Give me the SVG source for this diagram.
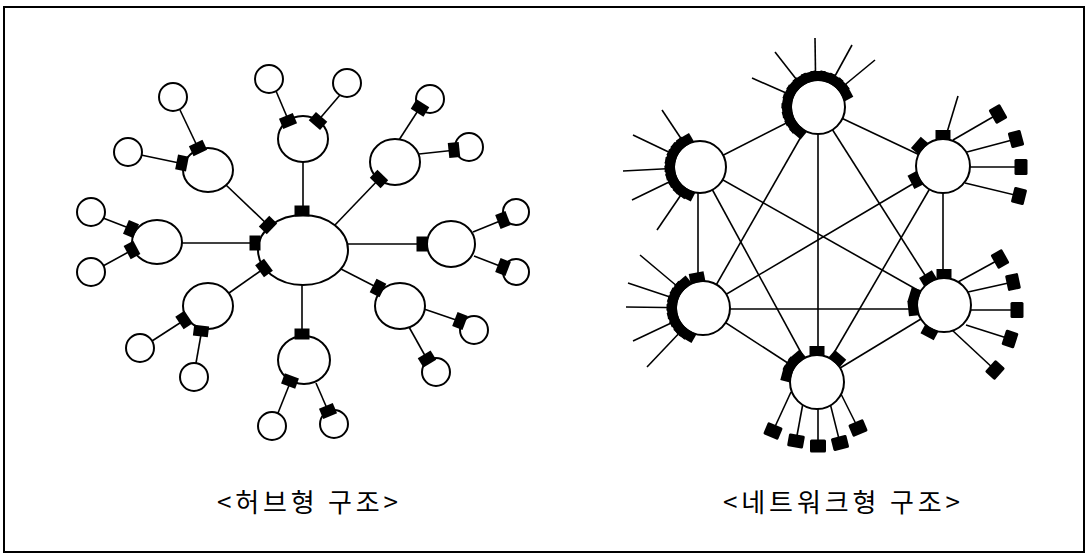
<svg xmlns="http://www.w3.org/2000/svg" xmlns:xlink="http://www.w3.org/1999/xlink" width="1088" height="557" viewBox="0 0 1088 557">
<style>
.n{fill:#fff;stroke:#000;stroke-width:2}
.c line,.s line{stroke:#000;stroke-width:1.6}
.p,use{fill:#000}
.t{font-family:"Noto Sans CJK KR","Liberation Sans",sans-serif;font-size:26px;fill:#000}
</style>
<defs>
<rect id="sq" x="-7.5" y="-5.5" width="15" height="11"/>
<rect id="np" x="-7.5" y="-9" width="15" height="10"/>
<rect id="tm" x="-8" y="-6.5" width="16" height="13" rx="1.5"/>
</defs>
<rect x="4" y="7" width="1080" height="545" fill="#fff" stroke="#000" stroke-width="2"/>

<!-- hub structure connectors -->
<g id="hub-connectors" class="c">
<line x1="303" y1="216" x2="303" y2="161"/>
<line x1="226" y1="185" x2="270" y2="227"/>
<line x1="181" y1="243" x2="259" y2="243"/>
<line x1="229" y1="293" x2="266" y2="267"/>
<line x1="302" y1="284" x2="302" y2="337"/>
<line x1="334" y1="226" x2="381" y2="177"/>
<line x1="347" y1="244" x2="427" y2="244"/>
<line x1="341" y1="269" x2="380" y2="289"/>
<line x1="276" y1="91" x2="290" y2="124"/>
<line x1="340" y1="95" x2="316" y2="123"/>
<line x1="180" y1="110" x2="199" y2="150"/>
<line x1="141" y1="155" x2="184" y2="164"/>
<line x1="103" y1="218" x2="134" y2="230"/>
<line x1="103" y1="266" x2="134" y2="249"/>
<line x1="152" y1="341" x2="186" y2="319"/>
<line x1="196" y1="363" x2="202" y2="329"/>
<line x1="278" y1="413" x2="292" y2="378"/>
<line x1="316" y1="383" x2="329" y2="413"/>
<line x1="399" y1="140" x2="421" y2="106"/>
<line x1="419" y1="154" x2="456" y2="150"/>
<line x1="473" y1="232" x2="505" y2="219"/>
<line x1="474" y1="256" x2="505" y2="268"/>
<line x1="424" y1="309" x2="462" y2="322"/>
<line x1="409" y1="327" x2="428" y2="361"/>
</g>

<g id="hub"><ellipse class="n" cx="303" cy="250" rx="45" ry="35"/></g>
<g id="h-n1"><ellipse class="n" cx="303" cy="139" rx="25" ry="23"/></g>
<g id="h-n2"><ellipse class="n" cx="208" cy="170" rx="25" ry="22"/></g>
<g id="h-n3"><ellipse class="n" cx="157" cy="242" rx="25" ry="22"/></g>
<g id="h-n4"><ellipse class="n" cx="208" cy="306" rx="25" ry="23"/></g>
<g id="h-n5"><ellipse class="n" cx="304" cy="360" rx="26" ry="24"/></g>
<g id="h-n6"><ellipse class="n" cx="395" cy="162" rx="25" ry="23"/></g>
<g id="h-n7"><ellipse class="n" cx="451" cy="244" rx="24" ry="23"/></g>
<g id="h-n8"><ellipse class="n" cx="400" cy="306" rx="25" ry="23"/></g>
<g id="h-leaves">
<circle class="n" cx="269" cy="79" r="14"/>
<circle class="n" cx="347" cy="83" r="14"/>
<circle class="n" cx="173" cy="97" r="14"/>
<circle class="n" cx="128" cy="152" r="14"/>
<circle class="n" cx="91" cy="212" r="14"/>
<circle class="n" cx="91" cy="272" r="14"/>
<circle class="n" cx="140" cy="348" r="14"/>
<circle class="n" cx="194" cy="377" r="14"/>
<circle class="n" cx="272" cy="426" r="14"/>
<circle class="n" cx="334" cy="424" r="14"/>
<circle class="n" cx="430" cy="99" r="14"/>
<circle class="n" cx="469" cy="147" r="14"/>
<circle class="n" cx="516" cy="212" r="13"/>
<circle class="n" cx="516" cy="272" r="13"/>
<circle class="n" cx="474" cy="330" r="14"/>
<circle class="n" cx="436" cy="372" r="14"/>
</g>
<g id="hub-ports">
<use href="#sq" transform="translate(302,211) rotate(0)"/>
<use href="#sq" transform="translate(268,225) rotate(134)"/>
<use href="#sq" transform="translate(255,243) rotate(90)"/>
<use href="#sq" transform="translate(264,268) rotate(54)"/>
<use href="#sq" transform="translate(302,334) rotate(0)"/>
<use href="#sq" transform="translate(379,179) rotate(44)"/>
<use href="#sq" transform="translate(422,244) rotate(90)"/>
<use href="#sq" transform="translate(378,288) rotate(117)"/>
<use href="#sq" transform="translate(288,121) rotate(157)"/>
<use href="#sq" transform="translate(318,121) rotate(221)"/>
<use href="#sq" transform="translate(198,148) rotate(155)"/>
<use href="#sq" transform="translate(182,163) rotate(101)"/>
<use href="#sq" transform="translate(131,229) rotate(113)"/>
<use href="#sq" transform="translate(132,250) rotate(62)"/>
<use href="#sq" transform="translate(184,320) rotate(56)"/>
<use href="#sq" transform="translate(201,331) rotate(7)"/>
<use href="#sq" transform="translate(290,381) rotate(20)"/>
<use href="#sq" transform="translate(328,411) rotate(157)"/>
<use href="#sq" transform="translate(420,108) rotate(32)"/>
<use href="#sq" transform="translate(454,150) rotate(84)"/>
<use href="#sq" transform="translate(503,220) rotate(69)"/>
<use href="#sq" transform="translate(503,267) rotate(111)"/>
<use href="#sq" transform="translate(460,321) rotate(111)"/>
<use href="#sq" transform="translate(427,359) rotate(149)"/>
</g>

<!-- network structure connectors -->
<g id="net-connectors" class="c">
<line x1="818" y1="107" x2="700" y2="167"/>
<line x1="818" y1="107" x2="943" y2="166"/>
<line x1="818" y1="107" x2="703" y2="308"/>
<line x1="818" y1="107" x2="944" y2="305"/>
<line x1="818" y1="107" x2="818" y2="382"/>
<line x1="698" y1="167" x2="698" y2="308"/>
<line x1="700" y1="167" x2="944" y2="305"/>
<line x1="700" y1="167" x2="817" y2="382"/>
<line x1="943" y1="166" x2="943" y2="305"/>
<line x1="943" y1="166" x2="703" y2="308"/>
<line x1="943" y1="166" x2="817" y2="382"/>
<line x1="703" y1="309" x2="944" y2="309"/>
<line x1="703" y1="308" x2="817" y2="382"/>
<line x1="944" y1="305" x2="817" y2="382"/>
</g>

<g id="net-top" class="s">
<line x1="818" y1="107" x2="752" y2="78"/>
<line x1="818" y1="107" x2="775" y2="52"/>
<line x1="816" y1="107" x2="815" y2="38"/>
<line x1="818" y1="107" x2="852" y2="45"/>
<line x1="818" y1="107" x2="875" y2="60"/>
<circle class="n" cx="818" cy="107" r="27"/>
<g transform="translate(818,107)">
<use href="#np" transform="rotate(-140) translate(0,-27)"/>
<use href="#np" transform="rotate(-125) translate(0,-27)"/>
<use href="#np" transform="rotate(-110) translate(0,-27)"/>
<use href="#np" transform="rotate(-96) translate(0,-27)"/>
<use href="#np" transform="rotate(-80) translate(0,-27)"/>
<use href="#np" transform="rotate(-64) translate(0,-27)"/>
<use href="#np" transform="rotate(-48) translate(0,-27)"/>
<use href="#np" transform="rotate(-32) translate(0,-27)"/>
<use href="#np" transform="rotate(-16) translate(0,-27)"/>
<use href="#np" transform="rotate(0) translate(0,-27)"/>
<use href="#np" transform="rotate(16) translate(0,-27)"/>
<use href="#np" transform="rotate(32) translate(0,-27)"/>
<use href="#np" transform="rotate(48) translate(0,-27)"/>
<use href="#np" transform="rotate(62) translate(0,-27)"/>
</g>
</g>

<g id="net-upper-left" class="s">
<line x1="700" y1="167" x2="662" y2="110"/>
<line x1="700" y1="167" x2="633" y2="135"/>
<line x1="700" y1="167" x2="623" y2="171"/>
<line x1="700" y1="167" x2="632" y2="200"/>
<line x1="700" y1="167" x2="657" y2="230"/>
<circle class="n" cx="700" cy="167" r="26"/>
<g transform="translate(700,167)">
<use href="#np" transform="rotate(-30) translate(0,-26)"/>
<use href="#np" transform="rotate(-44) translate(0,-26)"/>
<use href="#np" transform="rotate(-58) translate(0,-26)"/>
<use href="#np" transform="rotate(-72) translate(0,-26)"/>
<use href="#np" transform="rotate(-86) translate(0,-26)"/>
<use href="#np" transform="rotate(-100) translate(0,-26)"/>
<use href="#np" transform="rotate(-114) translate(0,-26)"/>
<use href="#np" transform="rotate(-128) translate(0,-26)"/>
<use href="#np" transform="rotate(-142) translate(0,-26)"/>
<use href="#np" transform="rotate(-153) translate(0,-26)"/>
</g>
</g>

<g id="net-lower-left" class="s">
<line x1="703" y1="308" x2="640" y2="255"/>
<line x1="703" y1="308" x2="628" y2="283"/>
<line x1="703" y1="308" x2="626" y2="307"/>
<line x1="703" y1="308" x2="633" y2="341"/>
<line x1="703" y1="308" x2="647" y2="367"/>
<circle class="n" cx="703" cy="308" r="27"/>
<g transform="translate(703,308)">
<use href="#np" transform="rotate(-11) translate(0,-27)"/>
<use href="#np" transform="rotate(-40) translate(0,-27)"/>
<use href="#np" transform="rotate(-54) translate(0,-27)"/>
<use href="#np" transform="rotate(-68) translate(0,-27)"/>
<use href="#np" transform="rotate(-82) translate(0,-27)"/>
<use href="#np" transform="rotate(-96) translate(0,-27)"/>
<use href="#np" transform="rotate(-110) translate(0,-27)"/>
<use href="#np" transform="rotate(-124) translate(0,-27)"/>
<use href="#np" transform="rotate(-138) translate(0,-27)"/>
<use href="#np" transform="rotate(-150) translate(0,-27)"/>
</g>
</g>

<g id="net-upper-right" class="s">
<line x1="945" y1="139" x2="958" y2="96"/>
<line x1="953" y1="140" x2="998" y2="114"/>
<line x1="967" y1="152" x2="1016" y2="139"/>
<line x1="968" y1="167" x2="1021" y2="167"/>
<line x1="965" y1="183" x2="1019" y2="196"/>
<circle class="n" cx="943" cy="166" r="27"/>
<g transform="translate(943,166)">
<use href="#np" transform="rotate(0) translate(0,-27)"/>
<use href="#np" transform="rotate(-49) translate(0,-27)"/>
<use href="#np" transform="rotate(-117) translate(0,-27)"/>
</g>
<use href="#tm" transform="translate(998,114) rotate(60)"/>
<use href="#tm" transform="translate(1016,139) rotate(75)"/>
<use href="#tm" transform="translate(1021,167) rotate(90)"/>
<use href="#tm" transform="translate(1019,196) rotate(104)"/>
</g>

<g id="net-lower-right" class="s">
<line x1="958" y1="282" x2="1000" y2="259"/>
<line x1="968" y1="292" x2="1013" y2="282"/>
<line x1="970" y1="310" x2="1017" y2="310"/>
<line x1="966" y1="325" x2="1010" y2="339"/>
<line x1="952" y1="330" x2="995" y2="370"/>
<circle class="n" cx="944" cy="305" r="27"/>
<g transform="translate(944,305)">
<use href="#np" transform="rotate(-31) translate(0,-27)"/>
<use href="#np" transform="rotate(0) translate(0,-27)"/>
<use href="#np" transform="rotate(-73) translate(0,-27)"/>
<use href="#np" transform="rotate(-96) translate(0,-27)"/>
<use href="#np" transform="rotate(-152) translate(0,-27)"/>
</g>
<use href="#tm" transform="translate(1000,259) rotate(61)"/>
<use href="#tm" transform="translate(1013,282) rotate(78)"/>
<use href="#tm" transform="translate(1017,310) rotate(90)"/>
<use href="#tm" transform="translate(1010,339) rotate(108)"/>
<use href="#tm" transform="translate(995,370) rotate(132)"/>
</g>

<g id="net-bottom" class="s">
<line x1="791" y1="392" x2="773" y2="431"/>
<line x1="803" y1="403" x2="796" y2="441"/>
<line x1="818" y1="408" x2="818" y2="446"/>
<line x1="830" y1="403" x2="840" y2="443"/>
<line x1="841" y1="394" x2="858" y2="428"/>
<circle class="n" cx="817" cy="382" r="27"/>
<g transform="translate(817,382)">
<use href="#np" transform="rotate(0) translate(0,-27)"/>
<use href="#np" transform="rotate(41) translate(0,-27)"/>
<use href="#np" transform="rotate(-40) translate(0,-27)"/>
<use href="#np" transform="rotate(-58) translate(0,-27)"/>
<use href="#np" transform="rotate(-75) translate(0,-27)"/>
</g>
<use href="#tm" transform="translate(773,431) rotate(203)"/>
<use href="#tm" transform="translate(796,441) rotate(190)"/>
<use href="#tm" transform="translate(818,446) rotate(180)"/>
<use href="#tm" transform="translate(840,443) rotate(166)"/>
<use href="#tm" transform="translate(858,428) rotate(157)"/>
</g>

<g id="labels">
<text class="t" x="217" y="512" textLength="181" lengthAdjust="spacing">&lt;허브형 구조&gt;</text>
<text class="t" x="723" y="512" textLength="237" lengthAdjust="spacing">&lt;네트워크형 구조&gt;</text>
</g>
</svg>
